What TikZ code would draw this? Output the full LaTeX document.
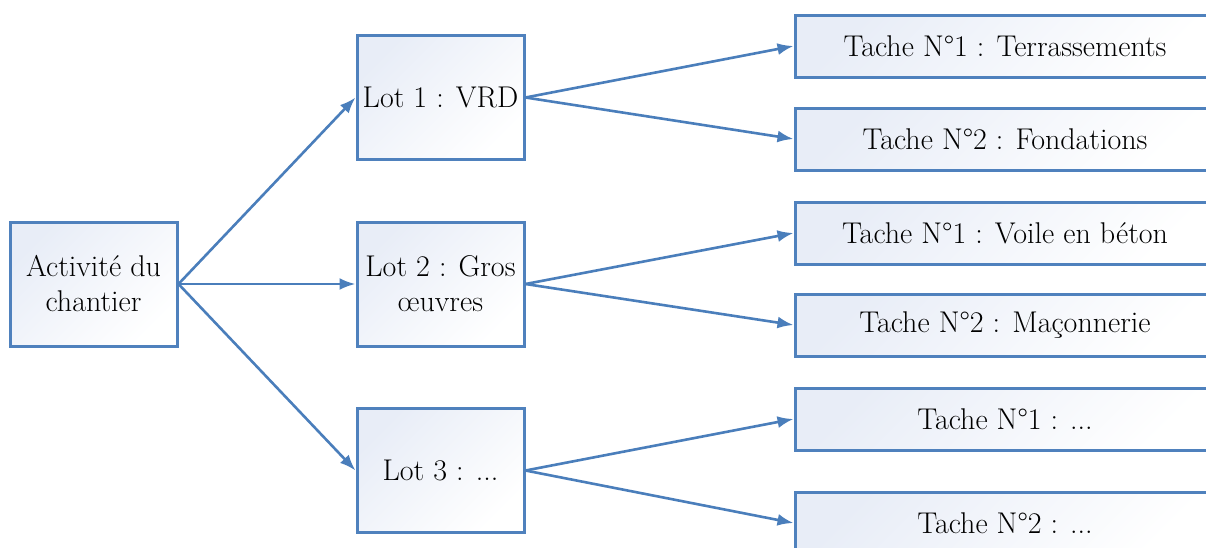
\documentclass[tikz,border=0pt]{standalone}
\usepackage{fontspec}
\usetikzlibrary{arrows.meta}
\definecolor{bord}{HTML}{4F81BD}
\definecolor{pale}{HTML}{E8EDF7}
\definecolor{arr}{HTML}{4A7EBB}
\tikzset{
  box/.style={draw=bord, line width=1.5pt, left color=pale, right color=white, shading angle=45,
    inner sep=2pt, align=center, font=\fontsize{15}{17.5}\selectfont, text=black},
  lotbox/.style={box, minimum width=83.5pt, minimum height=62pt},
  tachebox/.style={box, minimum width=210pt, minimum height=31pt},
  conn/.style={draw=arr, line width=1.3pt, -{Latex[length=8pt,width=6pt]}}
}
\begin{document}
\begin{tikzpicture}[x=0.5pt,y=-0.5pt]
\clip (0,0) rectangle (1206,547);
\fill[white] (0,0) rectangle (1206,547);
\node[lotbox] (act) at (93.5,284) {Activité du\\chantier};
\node[lotbox] (l1) at (440.5,97.5) {Lot 1 : VRD};
\node[lotbox] (l2) at (440.5,284) {Lot 2 : Gros\\œuvres};
\node[lotbox] (l3) at (440.5,470.5) {Lot 3 : ...};
\node[tachebox] (t1) at (1005,46) {Tache N°1 : Terrassements};
\node[tachebox] (t2) at (1005,139) {Tache N°2 : Fondations};
\node[tachebox] (t3) at (1005,233) {Tache N°1 : Voile en béton};
\node[tachebox] (t4) at (1005,325) {Tache N°2 : Maçonnerie};
\node[tachebox] (t5) at (1005,419) {Tache N°1 : ...};
\node[tachebox] (t6) at (1005,523) {Tache N°2 : ...};
\draw[conn] (act.east) -- (l1.west);
\draw[conn] (act.east) -- (l2.west);
\draw[conn] (act.east) -- (l3.west);
\draw[conn] (l1.east) -- (t1.west);
\draw[conn] (l1.east) -- (t2.west);
\draw[conn] (l2.east) -- (t3.west);
\draw[conn] (l2.east) -- (t4.west);
\draw[conn] (l3.east) -- (t5.west);
\draw[conn] (l3.east) -- (t6.west);
\end{tikzpicture}
\end{document}
